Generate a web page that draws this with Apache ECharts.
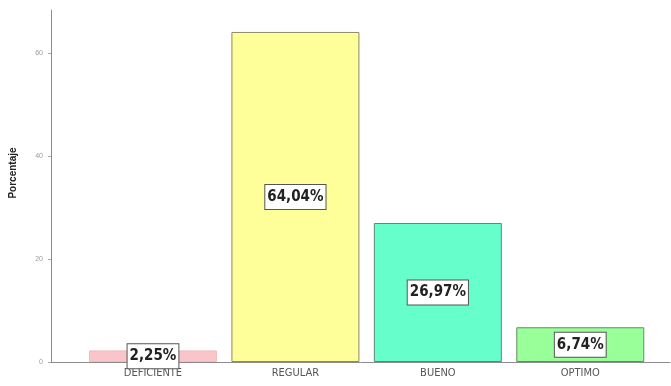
<!DOCTYPE html>
<html>
<head>
<meta charset="utf-8">
<script src="https://cdn.jsdelivr.net/npm/echarts@6/dist/echarts.min.js"></script>
<style>
  html, body { margin: 0; padding: 0; background: #ffffff; }
  #chart { width: 671px; height: 386px; }
</style>
</head>
<body>
<div id="chart"></div>
<script>
// Distribución porcentual por nivel
const categorias = ['DEFICIENTE', 'REGULAR', 'BUENO', 'OPTIMO'];
const porcentajes = [2.25, 64.04, 26.97, 6.74];
const coloresBarra = ['#f9c5ca', '#ffff99', '#66ffcc', '#99ff99'];
const bordesBarra = ['#f4b8bd', '#8a8a66', '#5a8a74', '#6a8a66'];
const ticksY = [0, 20, 40, 60];

const chart = echarts.init(document.getElementById('chart'), null, { renderer: 'canvas' });

const fmt = v => v.toFixed(2).replace('.', ',') + '%';

chart.setOption({
  animation: false,
  backgroundColor: '#ffffff',
  grid: { left: 51, right: 1, top: 10, bottom: 24 },
  xAxis: {
    type: 'value',
    min: -0.716,
    max: 3.63,
    splitLine: { show: false },
    axisTick: { show: false },
    axisLine: { show: true, onZero: false, lineStyle: { color: '#8c8c8c', width: 1 } },
    axisLabel: {
      customValues: categorias.map((_, i) => i),
      formatter: v => categorias[Math.round(v)] || '',
      color: '#555555',
      fontFamily: 'DejaVu Sans Condensed, Liberation Sans Narrow, Liberation Sans, sans-serif',
      fontSize: 11,
      margin: 6
    }
  },
  yAxis: {
    type: 'value',
    min: 0,
    max: 68.3,
    interval: 20,
    name: 'Porcentaje',
    nameLocation: 'middle',
    nameGap: 33,
    nameRotate: 90,
    nameTextStyle: {
      color: '#222222',
      fontWeight: 'bold',
      fontSize: 10,
      fontFamily: 'Liberation Sans, Arial, sans-serif',
      padding: [0, 0, 0, 26]
    },
    splitLine: { show: false },
    axisLine: { show: true, onZero: false, lineStyle: { color: '#8c8c8c', width: 1 } },
    axisTick: {
      show: true,
      length: 3,
      customValues: ticksY,
      lineStyle: { color: '#aaaaaa' }
    },
    axisLabel: {
      customValues: ticksY,
      color: '#9a9a9a',
      fontSize: 7,
      margin: 8
    }
  },
  series: [{
    type: 'bar',
    barWidth: 128,
    data: porcentajes.map((v, i) => ({
      value: [i, v],
      itemStyle: {
        color: coloresBarra[i],
        borderColor: bordesBarra[i],
        borderWidth: 1
      }
    })),
    label: {
      show: true,
      position: 'inside',
      formatter: p => fmt(p.value[1]),
      color: '#222222',
      fontWeight: 'bold',
      fontSize: 15,
      fontFamily: 'DejaVu Sans Condensed, Liberation Sans Narrow, Liberation Sans, sans-serif',
      backgroundColor: '#ffffff',
      borderColor: '#555555',
      borderWidth: 1,
      padding: [5, 2, 4, 2]
    }
  }]
});
</script>
</body>
</html>
